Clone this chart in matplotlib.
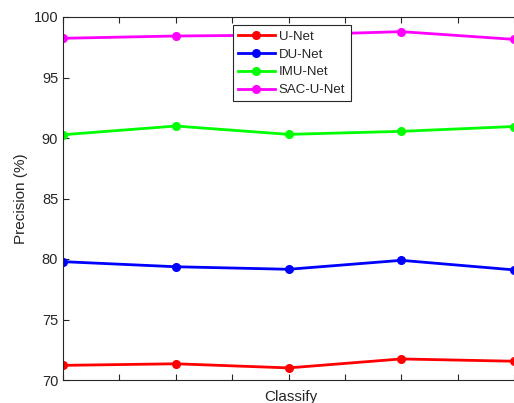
import matplotlib
matplotlib.use('Agg')
import matplotlib.pyplot as plt
import numpy as np

plt.rcParams['font.family'] = ['Liberation Sans', 'DejaVu Sans']

# precision per run for each network
runs = [1, 2, 3, 4, 5]
unet = [71.21, 71.34, 71.0, 71.74, 71.55]
du_net = [79.78, 79.36, 79.15, 79.89, 79.1]
imu_net = [90.27, 90.99, 90.3, 90.55, 90.95]
sac_unet = [98.24, 98.43, 98.51, 98.79, 98.15]

names = ['U-Net', 'DU-Net', 'IMU-Net', 'SAC-U-Net']
colors = ['#ff0000', '#0000ff', '#00ff00', '#ff00ff']
grey = '#262626'

fig = plt.figure(figsize=(5.14, 4.03), dpi=100)
ax = fig.add_axes([63/514, 23/403, 451/514, 363/403])

for vals, name, c in zip([unet, du_net, imu_net, sac_unet], names, colors):
    ax.plot(runs, vals, '-o', color=c, lw=2, ms=5.5, label=name)

x_hi = 1 + 451/114
ax.set_xlim(1, x_hi)
ax.set_ylim(70, 100)
ax.set_xticks(np.arange(1, 5.01, 0.5))
ax.set_xticklabels([])
ax.set_yticks(np.arange(70, 101, 5))
ax.tick_params(direction='in', top=True, right=False, length=4,
               color=grey, labelcolor=grey, labelsize=10.5, width=0.8)
for side in ['left', 'bottom', 'top']:
    ax.spines[side].set_color(grey)
    ax.spines[side].set_linewidth(0.8)
ax.spines['right'].set_visible(False)

ax.set_ylabel('Precision (%)', color=grey, fontsize=11)
ax.yaxis.set_label_coords(-0.078, 0.5)
ax.set_xlabel('Classify', color=grey, fontsize=11)
ax.xaxis.set_label_coords((3 - 1) / (x_hi - 1), -0.028)

leg = ax.legend(loc='upper left', bbox_to_anchor=(0.376, 0.977), fontsize=9.5,
                frameon=True, fancybox=False, framealpha=1, borderpad=0.4,
                labelspacing=0.42, handlelength=2.8, handletextpad=0.3,
                borderaxespad=0)
leg.get_frame().set_edgecolor(grey)
leg.get_frame().set_linewidth(0.8)
for t in leg.get_texts():
    t.set_color(grey)

fig.savefig('out.png', dpi=100)
